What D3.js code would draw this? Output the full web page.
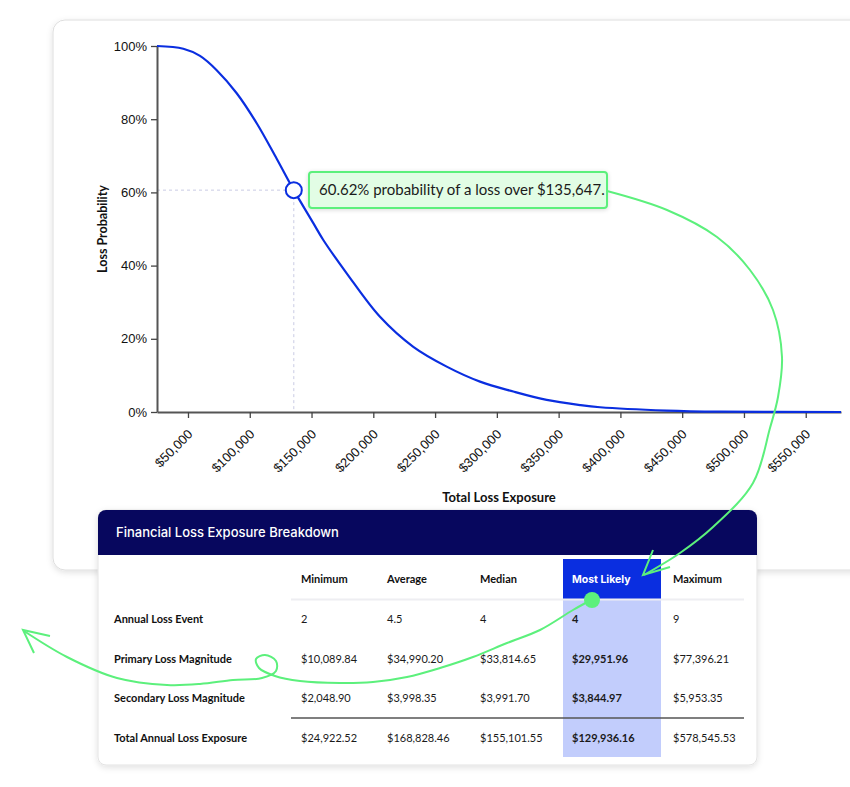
<!DOCTYPE html>
<html>
<head>
<meta charset="utf-8">
<script src="https://cdn.jsdelivr.net/npm/d3@7"></script>
<style>
  body { margin: 0; background: #fff; }
  svg { display: block; }
</style>
</head>
<body>
<svg id="chart" width="850" height="787"></svg>
<script>
// loss exceedance curve
var lossValues = [24923, 46209, 59726, 73244, 89432, 105620, 121808, 135647, 151432, 159526, 178466,
                  205419, 232372, 259406, 286359, 313312, 340346, 367299, 383487, 437474, 480615, 578546];
var lossProb = [1.0, 0.9925, 0.973, 0.934, 0.871, 0.789, 0.692, 0.6062, 0.516, 0.470, 0.379,
                0.260, 0.178, 0.124, 0.083, 0.056, 0.033, 0.019, 0.013, 0.004, 0.001, 0.0];

var xTicks = [50000, 100000, 150000, 200000, 250000, 300000, 350000, 400000, 450000, 500000, 550000];
var yTicks = [0, 0.2, 0.4, 0.6, 0.8, 1.0];

var markerLoss = 135647;
var markerProb = 0.6062;

// table
var columns = ["Minimum", "Average", "Median", "Most Likely", "Maximum"];
var rowLabels = ["Annual Loss Event", "Primary Loss Magnitude", "Secondary Loss Magnitude", "Total Annual Loss Exposure"];
var annualLossEvent = [2, 4.5, 4, 4, 9];
var primaryLoss = [10089.84, 34990.20, 33814.65, 29951.96, 77396.21];
var secondaryLoss = [2048.90, 3998.35, 3991.70, 3844.97, 5953.35];
var totalLoss = [24922.52, 168828.46, 155101.55, 129936.16, 578545.53];
var highlightCol = 3;

var green = "#5cf07c";
var blue = "#0a2ee0";
var navy = "#07075e";

var svg = d3.select("#chart");

var defs = svg.append("defs");
var sh = defs.append("filter").attr("id", "shadow").attr("x", "-10%").attr("y", "-10%").attr("width", "120%").attr("height", "130%");
sh.append("feDropShadow").attr("dx", 0).attr("dy", 2).attr("stdDeviation", 3).attr("flood-color", "#000").attr("flood-opacity", 0.12);
var sh2 = defs.append("filter").attr("id", "shadow2").attr("x", "-10%").attr("y", "-30%").attr("width", "120%").attr("height", "160%");
sh2.append("feDropShadow").attr("dx", 0).attr("dy", 1).attr("stdDeviation", 2).attr("flood-color", "#000").attr("flood-opacity", 0.15);

// outer card
svg.append("rect")
  .attr("x", 53).attr("y", 20)
  .attr("width", 830).attr("height", 550)
  .attr("rx", 12)
  .attr("fill", "#fff")
  .attr("stroke", "#dedede")
  .attr("filter", "url(#shadow)");

// scales
var x = d3.scaleLinear()
  .domain([totalLoss[0], totalLoss[4]])
  .range([157, 841]);

var y = d3.scaleLinear()
  .domain([0, 1])
  .range([412, 46]);

var chartGroup = svg.append("g");

// crosshair
chartGroup.append("line")
  .attr("x1", x.range()[0]).attr("x2", x(markerLoss))
  .attr("y1", y(markerProb)).attr("y2", y(markerProb))
  .attr("stroke", "#c9cbe4").attr("stroke-dasharray", "3,3");
chartGroup.append("line")
  .attr("x1", x(markerLoss)).attr("x2", x(markerLoss))
  .attr("y1", y(markerProb)).attr("y2", y(0))
  .attr("stroke", "#c9cbe4").attr("stroke-dasharray", "3,3");

// axes
var bottomAxis = d3.axisBottom(x)
  .tickValues(xTicks)
  .tickFormat(d3.format("$,.0f"))
  .tickSize(6)
  .tickSizeOuter(0);

var leftAxis = d3.axisLeft(y)
  .tickValues(yTicks)
  .tickFormat(d3.format(".0%"))
  .tickSize(6)
  .tickPadding(4)
  .tickSizeOuter(0);

var xg = chartGroup.append("g")
  .attr("transform", "translate(0," + y(0) + ")")
  .call(bottomAxis);
xg.selectAll("text")
  .attr("x", 0).attr("y", 0).attr("dy", 0)
  .attr("text-anchor", "end")
  .attr("transform", "translate(5,23) rotate(-45)");

var yg = chartGroup.append("g")
  .attr("transform", "translate(" + x.range()[0] + ",0)")
  .call(leftAxis);

[xg, yg].forEach(function(g) {
  g.select(".domain").attr("stroke", "#555").attr("stroke-width", 2);
  g.selectAll(".tick line").attr("stroke", "#444").attr("stroke-width", 1.3);
  g.selectAll("text")
    .attr("font-family", "'Liberation Sans', Arial, sans-serif")
    .attr("font-size", 13)
    .attr("fill", "#111");
});

// axis titles
chartGroup.append("text")
  .attr("transform", "translate(107,229) rotate(-90)")
  .attr("text-anchor", "middle")
  .attr("font-family", "Lato, sans-serif")
  .attr("font-weight", 700)
  .attr("font-size", 12.5)
  .attr("fill", "#111")
  .text("Loss Probability");

chartGroup.append("text")
  .attr("x", 499).attr("y", 502)
  .attr("text-anchor", "middle")
  .attr("font-family", "Lato, sans-serif")
  .attr("font-weight", 700)
  .attr("font-size", 13)
  .attr("fill", "#111")
  .text("Total Loss Exposure");

// the curve
var line = d3.line()
  .x(function(d, i) { return x(lossValues[i]); })
  .y(function(d) { return y(d); })
  .curve(d3.curveCatmullRom.alpha(0.5));

chartGroup.append("path")
  .datum(lossProb)
  .attr("d", line)
  .attr("fill", "none")
  .attr("stroke", blue)
  .attr("stroke-width", 2.2);

// marker
chartGroup.append("circle")
  .attr("cx", x(markerLoss)).attr("cy", y(markerProb))
  .attr("r", 8)
  .attr("fill", "#fff")
  .attr("stroke", blue)
  .attr("stroke-width", 2);

// callout
var callout = chartGroup.append("g").attr("transform", "translate(309,172)");
callout.append("rect")
  .attr("width", 298).attr("height", 36)
  .attr("rx", 3)
  .attr("fill", "#e2fde5")
  .attr("stroke", green)
  .attr("stroke-width", 2)
  .attr("filter", "url(#shadow2)");
callout.append("text")
  .attr("x", 10).attr("y", 23)
  .attr("font-family", "Lato, sans-serif")
  .attr("font-size", 15)
  .attr("fill", "#1b1b1b")
  .text(d3.format(".2%")(markerProb) + " probability of a loss over " + d3.format("$,.0f")(markerLoss) + ".");

// ---------- table card ----------
var tX = 98, tY = 510, tW = 659, tH = 255;
defs.append("clipPath").attr("id", "cardClip")
  .append("rect").attr("x", tX).attr("y", tY).attr("width", tW).attr("height", tH).attr("rx", 8);

svg.append("rect")
  .attr("x", tX).attr("y", tY).attr("width", tW).attr("height", tH).attr("rx", 8)
  .attr("fill", "#fff")
  .attr("stroke", "#e3e3e3")
  .attr("filter", "url(#shadow)");

var table = svg.append("g").attr("clip-path", "url(#cardClip)");

table.append("rect")
  .attr("x", tX).attr("y", tY).attr("width", tW).attr("height", 45)
  .attr("fill", navy);

table.append("text")
  .attr("x", 116).attr("y", 537)
  .attr("font-family", "Inter, sans-serif")
  .attr("font-weight", 500)
  .attr("font-size", 13)
  .attr("fill", "#fff")
  .text("Financial Loss Exposure Breakdown");

var colX = [301, 387, 480, 572, 673];
var headerY = 583;
var rowY = [623, 663, 702, 742];

// highlighted column
table.append("rect")
  .attr("x", colX[highlightCol] - 9).attr("y", 559)
  .attr("width", 98).attr("height", 40)
  .attr("fill", blue);
table.append("rect")
  .attr("x", colX[highlightCol] - 9).attr("y", 599)
  .attr("width", 98).attr("height", 158)
  .attr("fill", "#c2cdfc");

table.append("line")
  .attr("x1", 291).attr("x2", 744).attr("y1", 599.5).attr("y2", 599.5)
  .attr("stroke", "#eeeef2").attr("stroke-width", 2);
table.append("line")
  .attr("x1", 291).attr("x2", 744).attr("y1", 718).attr("y2", 718)
  .attr("stroke", "#555").attr("stroke-width", 1.5);

var font = "Lato, sans-serif";

table.selectAll("text.colhead")
  .data(columns)
  .enter()
  .append("text")
  .attr("class", "colhead")
  .attr("x", function(d, i) { return colX[i]; })
  .attr("y", headerY)
  .attr("font-family", function(d, i) { return i === highlightCol ? "Inter, sans-serif" : font; })
  .attr("font-weight", 700)
  .attr("font-size", function(d, i) { return i === highlightCol ? 10.5 : 11; })
  .attr("fill", function(d, i) { return i === highlightCol ? "#fff" : "#111"; })
  .text(function(d) { return d; });

table.selectAll("text.rowlabel")
  .data(rowLabels)
  .enter()
  .append("text")
  .attr("class", "rowlabel")
  .attr("x", 114)
  .attr("y", function(d, i) { return rowY[i]; })
  .attr("font-family", font)
  .attr("font-weight", 700)
  .attr("font-size", 11)
  .attr("fill", "#111")
  .text(function(d) { return d; });

var money = d3.format("$,.2f");
var rows = [
  annualLossEvent.map(function(v) { return String(v); }),
  primaryLoss.map(money),
  secondaryLoss.map(money),
  totalLoss.map(money)
];

rows.forEach(function(r, ri) {
  table.selectAll("text.cell" + ri)
    .data(r)
    .enter()
    .append("text")
    .attr("class", "cell" + ri)
    .attr("x", function(d, i) { return colX[i]; })
    .attr("y", rowY[ri])
    .attr("font-family", font)
    .attr("font-weight", function(d, i) { return i === highlightCol ? 700 : 400; })
    .attr("font-size", 11)
    .attr("fill", "#1a1a1a")
    .text(function(d) { return d; });
});

// ---------- green arrows ----------
var scribble = d3.line().curve(d3.curveCatmullRom.alpha(0.5));

var arrowOne = [[607, 191], [667, 210], [717, 237], [750, 270], [773, 310], [782, 357], [778, 397],
                [770, 428], [753, 483], [713, 527], [680, 553], [644, 575]];
svg.append("path")
  .attr("d", scribble(arrowOne))
  .attr("fill", "none").attr("stroke", green).attr("stroke-width", 2);
svg.append("path")
  .attr("d", "M653,550 L643,575 L670,567")
  .attr("fill", "none").attr("stroke", green).attr("stroke-width", 2);

var arrowTwo = [[591, 600], [573, 610], [540, 630], [507, 643], [473, 657], [440, 668], [407, 677],
                [373, 682], [340, 683], [300, 681], [275, 676], [259, 668], [256, 659], [265, 655],
                [276, 661], [276, 671], [262, 678], [233, 680], [200, 684], [167, 685], [117, 678],
                [67, 657], [24, 631]];
svg.append("path")
  .attr("d", scribble(arrowTwo))
  .attr("fill", "none").attr("stroke", green).attr("stroke-width", 2);
svg.append("path")
  .attr("d", "M50,636 L23,630 L34,653")
  .attr("fill", "none").attr("stroke", green).attr("stroke-width", 2);

svg.append("circle")
  .attr("cx", 592).attr("cy", 600).attr("r", 8)
  .attr("fill", green);
</script>
</body>
</html>
